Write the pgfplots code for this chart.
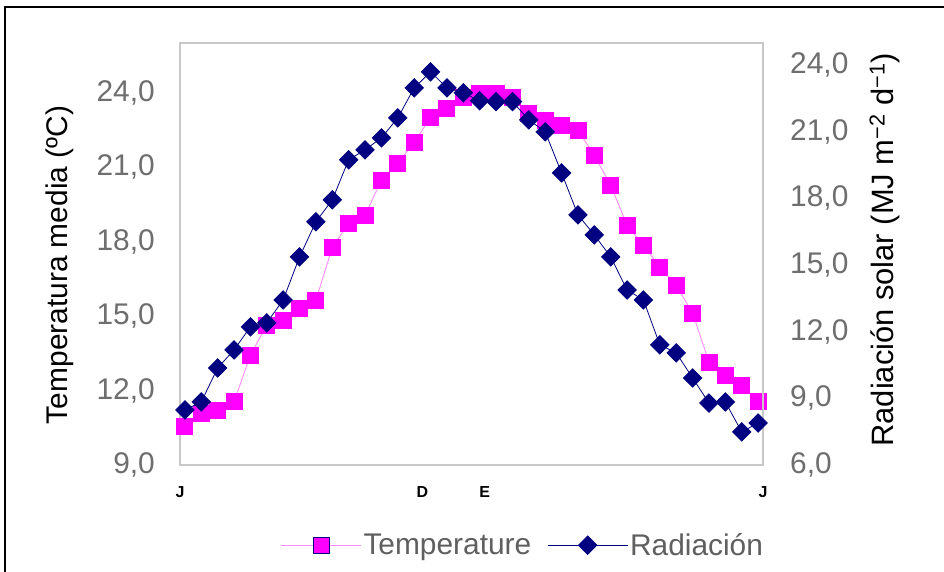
\documentclass[border=0pt]{standalone}
\usepackage{pgfplots}
\usepackage{pgfplotstable}
\pgfplotsset{compat=1.18}
\usepackage{fontspec}
\setmainfont{Liberation Sans}
\definecolor{tmag}{RGB}{255,0,255}
\definecolor{tline}{RGB}{255,140,255}
\definecolor{rnavy}{RGB}{0,0,128}
\definecolor{tickgray}{RGB}{110,110,110}
\definecolor{axgray}{RGB}{200,200,200}
\definecolor{leggray}{RGB}{95,95,95}

\pgfplotstableread{
x temp rad
1 10.57 8.48
2 11.09 8.84
3 11.21 10.37
4 11.54 11.18
5 13.43 12.22
6 14.63 12.40
7 14.83 13.43
8 15.32 15.37
9 15.64 16.95
10 17.77 17.94
11 18.74 19.74
12 19.06 20.19
13 20.47 20.73
14 21.15 21.63
15 22.00 22.98
16 23.00 23.70
17 23.37 22.98
18 23.81 22.76
19 23.97 22.40
20 23.97 22.36
21 23.81 22.36
22 23.17 21.54
23 22.88 21.00
24 22.68 19.15
25 22.48 17.26
26 21.47 16.36
27 20.27 15.37
28 18.66 13.88
29 17.85 13.43
30 16.97 11.41
31 16.24 11.05
32 15.12 9.92
33 13.14 8.79
34 12.62 8.84
35 12.22 7.49
36 11.54 7.89
}\datatable

\pgfplotsset{
  common/.style={
    at={(180bp,107bp)}, anchor=south west,
    scale only axis, width=583bp, height=422bp,
    xmin=0.7, xmax=36.3,
    major tick length=0pt,
    axis line style={axgray, line width=1.5bp},
    /pgf/number format/assume math mode=true,
    /pgf/number format/.cd, fixed, fixed zerofill, precision=1, use comma,
  },
}

\begin{document}
\begin{tikzpicture}
\path[use as bounding box] (0bp,0bp) rectangle (944bp,572bp);
\fill[white] (0bp,0bp) rectangle (944bp,572bp);
\draw[black, line width=1.5bp] (5bp,0bp) -- (5bp,565bp) -- (944bp,565bp);

\begin{axis}[common,
  ymin=9, ymax=26,
  ytick={9,12,15,18,21,24},
  ytick pos=left, xtick pos=bottom,
  xtick={0.7,15.5,19.3,36.3},
  xticklabels={J,D,E,J},
  x tick label style={font=\bfseries\fontsize{16}{18}\selectfont, text=black, anchor=center, yshift=-27bp},
  y tick label style={font=\fontsize{30}{32}\selectfont, text=tickgray, inner sep=0pt, xshift=-25bp},
  ylabel={Temperatura media (ºC)},
  ylabel style={at={(axis description cs:-0.206,0.474)}, anchor=center, font=\fontsize{30}{33}\selectfont, text=black},
]
\addplot[tline, line width=0.9bp, mark=square*, mark size=8bp, mark options={fill=tmag, draw=tmag, solid}] table[x=x, y=temp] {\datatable};
\end{axis}

\begin{axis}[common,
  ymin=6, ymax=25,
  ytick={6,9,12,15,18,21,24},
  axis y line*=right, axis x line=none,
  y tick label style={font=\fontsize{30}{32}\selectfont, text=tickgray, inner sep=0pt, xshift=27bp},
  ylabel={Radiación solar (MJ m\textsuperscript{−2} d\textsuperscript{−1})},
  ylabel style={at={(axis description cs:1.209,0.51)}, anchor=center, rotate=0, font=\fontsize{31}{34}\selectfont, text=black},
  legend style={at={(axis description cs:0.588,-0.19)}, anchor=center, draw=none, fill=none,
    legend columns=2, font=\fontsize{30}{32}\selectfont, text=leggray,
    /tikz/every even column/.append style={column sep=14bp}},
  legend image code/.code={\draw[mark repeat=2,mark phase=2,#1] plot coordinates {(0bp,0bp) (40bp,0bp) (80bp,0bp)};},
]
\addlegendimage{tline, line width=0.9bp, mark=square*, mark size=8bp, mark options={fill=tmag, draw=rnavy, solid}}
\addlegendentry{Temperature}
\addplot[rnavy, line width=0.8bp, mark=square*, mark size=6.5bp, mark options={fill=rnavy, draw=rnavy, rotate=45, solid}] table[x=x, y=rad] {\datatable};
\addlegendentry{Radiación}
\end{axis}
\end{tikzpicture}
\end{document}
